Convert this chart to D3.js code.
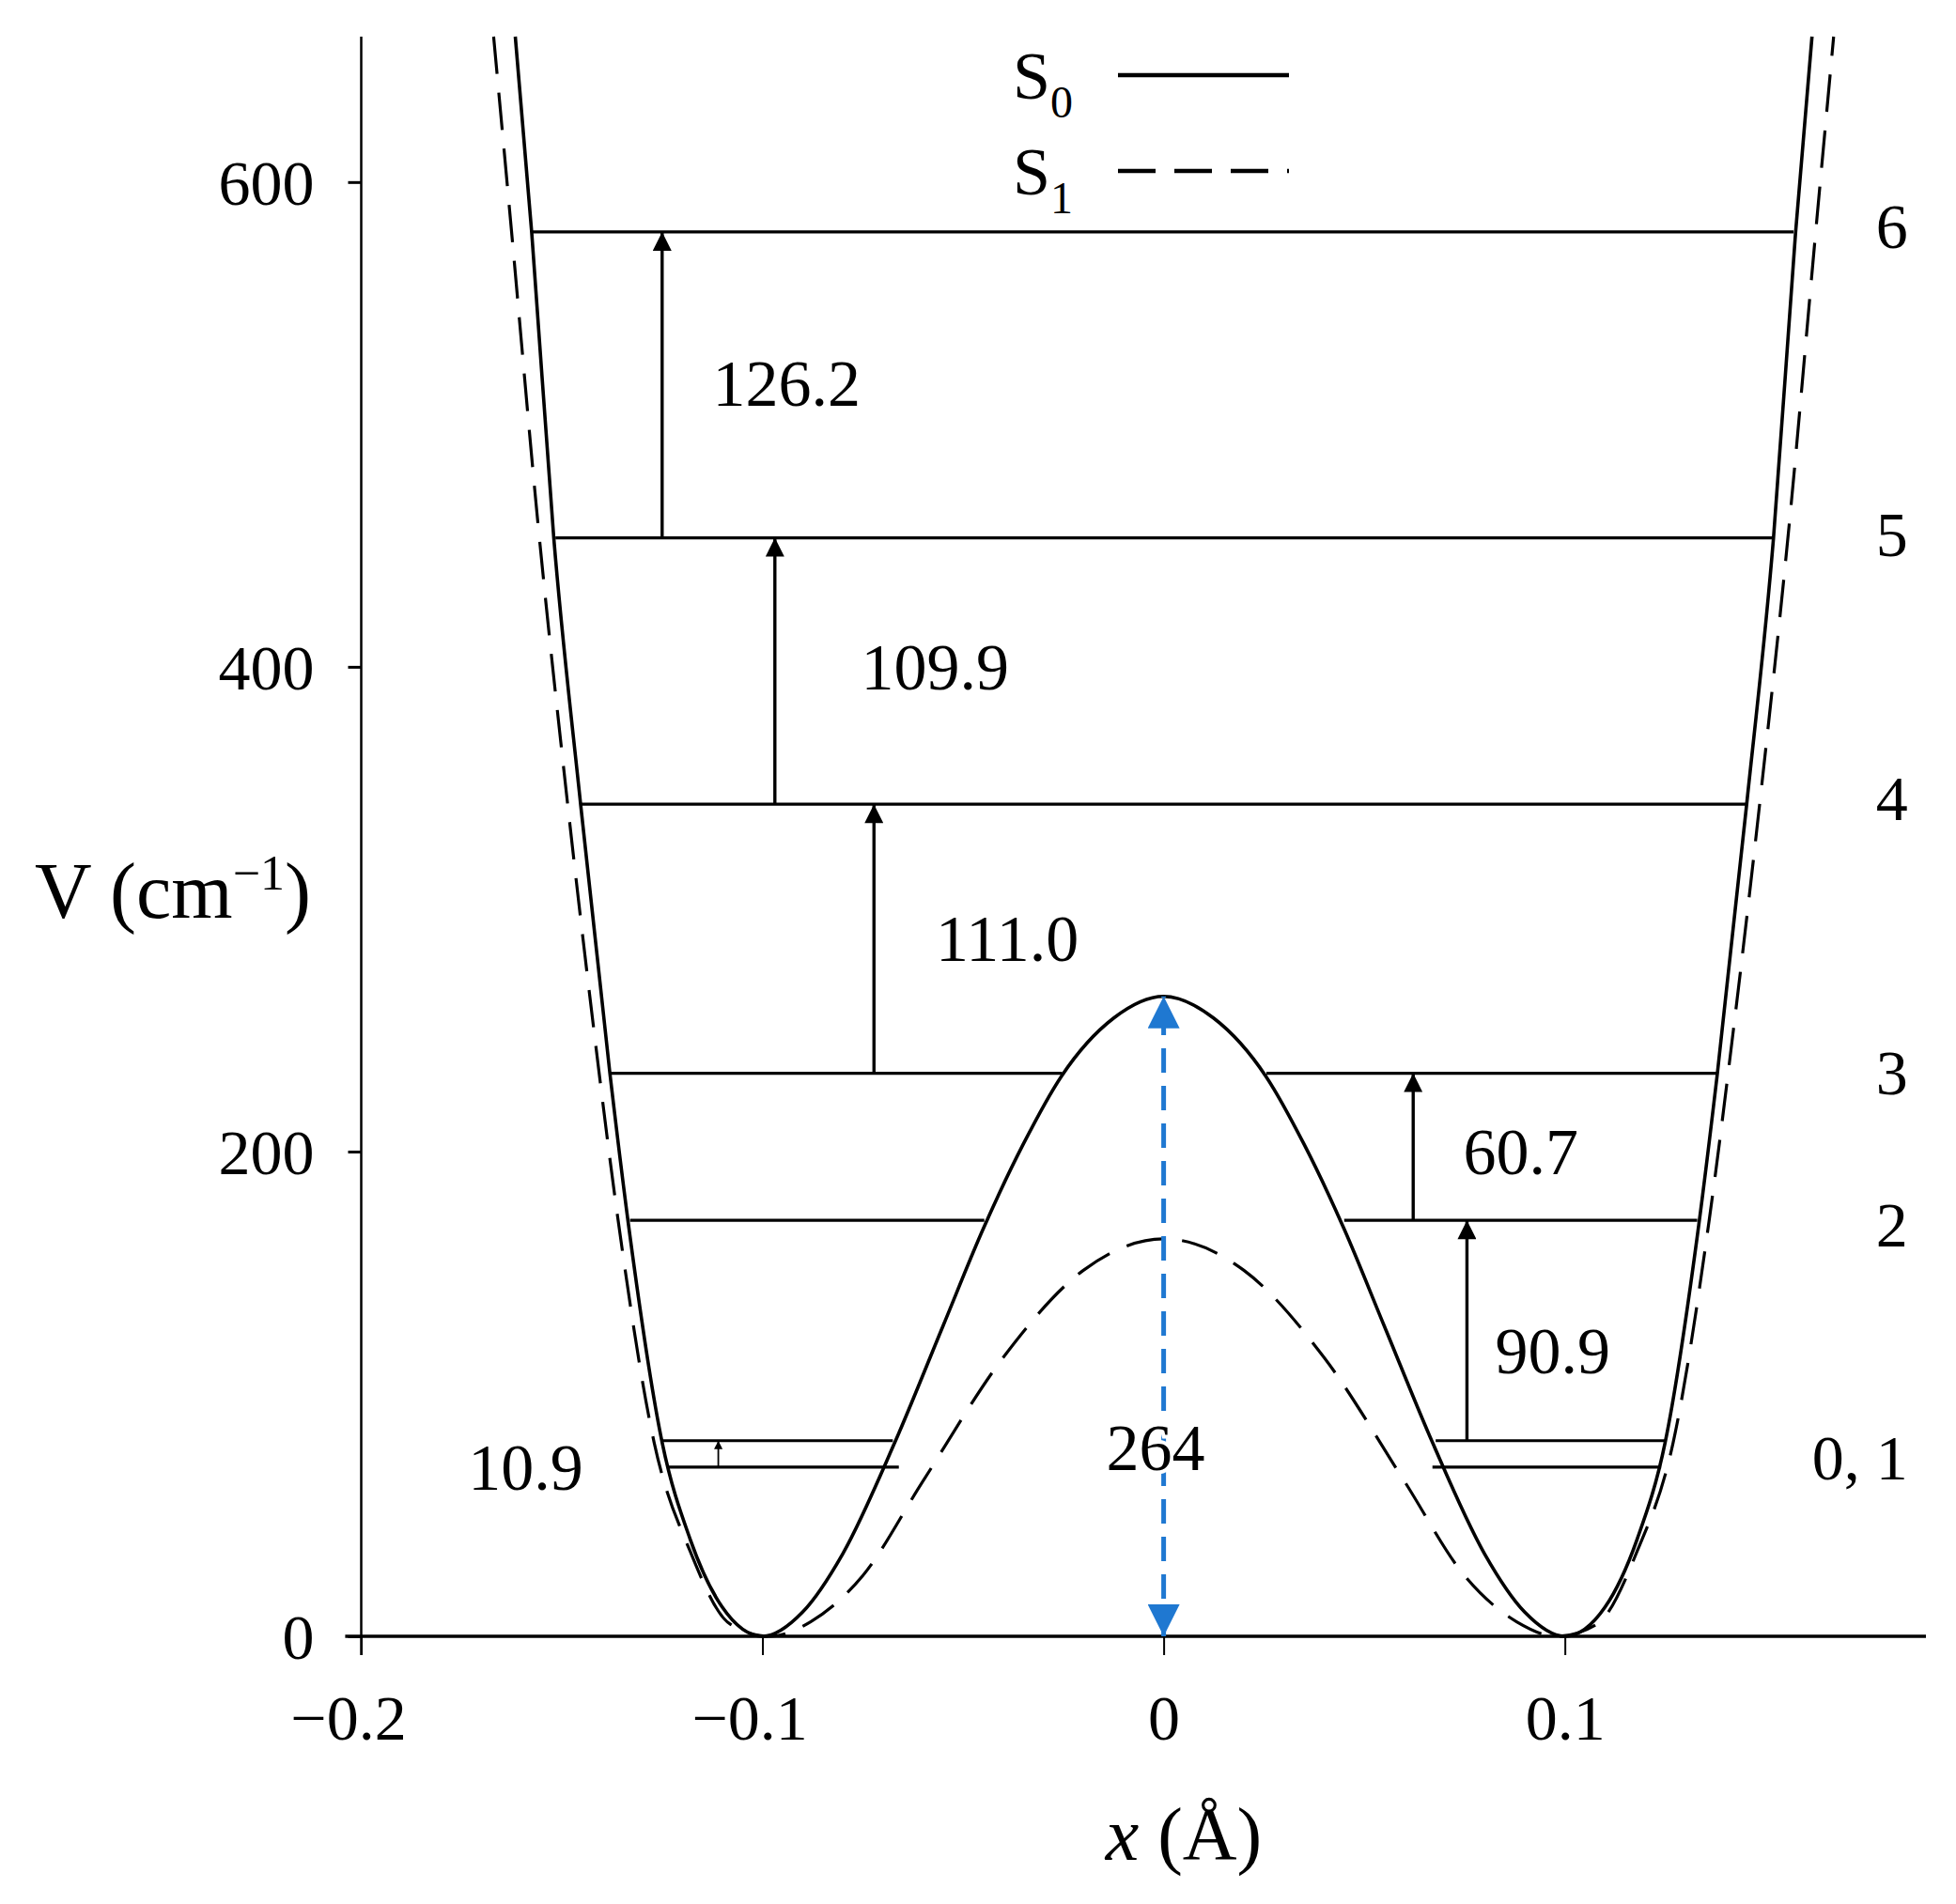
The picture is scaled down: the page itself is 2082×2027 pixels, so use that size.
<!DOCTYPE html>
<html><head><meta charset="utf-8">
<script src="https://cdn.jsdelivr.net/npm/d3@7"></script>
<style>body{margin:0;background:#fff}</style>
</head><body>
<svg id="c" width="2082" height="2027"></svg>
<script>
// Potential S0 (solid), half-profile (mirrored)
const s0X = [0,0.0125,0.0255,0.035,0.045,0.055,0.067,0.08,0.09,0.1,0.11,0.118,0.125,0.133,0.138,0.1453,0.152,0.1575,0.1616];
const s0V = [264,255,231,203,168,128,80,34,10,0,12,40,80,165,232,343,453,579,660];
// Potential S1 (dashed)
const s1X = [0,0.02,0.04,0.06,0.075,0.088,0.098,0.108,0.118,0.127,0.136,0.142,0.149,0.156,0.1625,0.167];
const s1V = [164,151,115,64,25,6,0,5,35,80,172,250,350,460,579,660];
// Energy levels
const levelE = [69.8,80.7,171.6,232.3,343.3,453.2,579.4];
const levelLabel = ["","0, 1","2","3","4","5","6"];
const levelLabelV = [0,74,170,233,346,455,582];
const levelSegs = [
  [[-0.1234,-0.066],[0.067,0.124]],
  [[-0.1253,-0.0675],[0.0678,0.125]],
  [[-0.133,-0.0447],[0.045,0.133]],
  [[-0.138,-0.0253],[0.0256,0.138]],
  [[-0.1453,0.1453]],
  [[-0.1516,0.152]],
  [[-0.1575,0.157]]
];
// Transitions: x, from level, label, label position
const transX = [-0.111,0.0756,0.0622,-0.0722,-0.0969,-0.125];
const transFrom = [0,1,2,3,4,5];
const transLabel = ["10.9","90.9","60.7","111.0","109.9","126.2"];
const transLabelX = [-0.159,0.097,0.089,-0.039,-0.057,-0.094];
const transLabelV = [70,118,200,288,400,517];
const barrier = 264;
const xTicks = [-0.2,-0.1,0,0.1];
const yTicks = [0,200,400,600];

const svg = d3.select("#c");
const x = d3.scaleLinear().domain([-0.2,0.19]).range([384.5,2050]);
const y = d3.scaleLinear().domain([0,660]).range([1742,39]);
const font = "'Liberation Serif', 'DejaVu Serif', serif";

function mirror(xs, vs){
  const pts=[];
  for(let i=xs.length-1;i>0;i--) pts.push([-xs[i],vs[i]]);
  for(let i=0;i<xs.length;i++) pts.push([xs[i],vs[i]]);
  return pts;
}
const line = d3.line().x(d=>x(d[0])).y(d=>y(d[1])).curve(d3.curveMonotoneX);

svg.append("path").attr("d",line(mirror(s1X,s1V))).attr("fill","none")
  .attr("stroke","#000").attr("stroke-width",3.2).attr("stroke-dasharray","40,20");
svg.append("path").attr("d",line(mirror(s0X,s0V))).attr("fill","none")
  .attr("stroke","#000").attr("stroke-width",3.6);

// axes
const xAxis = svg.append("g").attr("transform",`translate(0,${y(0)})`)
  .call(d3.axisBottom(x).tickValues(xTicks).tickSize(20).tickFormat(d=>d===0?"0":(d<0?"\u2212":"")+Math.abs(d).toFixed(1)).tickSizeOuter(0));
xAxis.select(".domain").attr("d",`M${x(-0.204)},0H${x(0.19)}`).attr("stroke-width",3.5);
xAxis.selectAll(".tick line").attr("stroke-width",2);
xAxis.selectAll("text").attr("font-family",font).attr("font-size",68).attr("dy",0).attr("y",110);
xAxis.selectAll(".tick text").filter(d=>d<0).attr("dx",-14);

const yAxis = svg.append("g").attr("transform",`translate(${x(-0.2)},0)`)
  .call(d3.axisLeft(y).tickValues(yTicks).tickSize(14).tickSizeOuter(0));
yAxis.select(".domain").attr("d",`M0,${y(0)+20}V${y(660)}`).attr("stroke-width",2.5);
yAxis.selectAll(".tick line").attr("stroke-width",3);
yAxis.selectAll("text").attr("font-family",font).attr("font-size",68).attr("x",-50).attr("dy","0.35em");

// levels
levelSegs.forEach((segs,i)=>segs.forEach(s=>{
  svg.append("line").attr("x1",x(s[0])).attr("x2",x(s[1])).attr("y1",y(levelE[i])).attr("y2",y(levelE[i]))
    .attr("stroke","#000").attr("stroke-width",3.2);
}));
levelLabel.forEach((t,i)=>{ if(!t) return;
  svg.append("text").attr("x",x(0.1855)).attr("y",y(levelLabelV[i])).attr("text-anchor","end")
    .attr("font-family",font).attr("font-size",68).attr("dy","0.35em").text(t);
});

// arrow markers
const defs = svg.append("defs");
defs.append("marker").attr("id","ah").attr("viewBox","0 0 10 10").attr("refX",10).attr("refY",5)
  .attr("markerWidth",10).attr("markerHeight",9).attr("markerUnits","userSpaceOnUse").attr("orient","auto")
  .append("path").attr("d","M0,0L10,5L0,10Z").attr("fill","#000");
defs.append("marker").attr("id","ahs").attr("viewBox","0 0 10 10").attr("refX",10).attr("refY",5)
  .attr("markerWidth",26).attr("markerHeight",20).attr("markerUnits","userSpaceOnUse").attr("orient","auto")
  .append("path").attr("d","M0,0L10,5L0,10Z").attr("fill","#000");
defs.append("marker").attr("id","ab").attr("viewBox","0 0 10 10").attr("refX",10).attr("refY",5)
  .attr("markerWidth",38).attr("markerHeight",34).attr("markerUnits","userSpaceOnUse").attr("orient","auto-start-reverse")
  .append("path").attr("d","M0,0L10,5L0,10Z").attr("fill","#1f78d1");

transX.forEach((tx,i)=>{
  const f=levelE[transFrom[i]], t=levelE[transFrom[i]+1];
  svg.append("line").attr("x1",x(tx)).attr("x2",x(tx)).attr("y1",y(f)).attr("y2",y(t))
    .attr("stroke","#000").attr("stroke-width",i===0?1.8:3.4).attr("marker-end",i===0?"url(#ah)":"url(#ahs)");
  svg.append("text").attr("x",x(transLabelX[i])).attr("y",y(transLabelV[i])).attr("text-anchor","middle")
    .attr("dy","0.35em").attr("font-family",font).attr("font-size",70).text(transLabel[i]);
});

// barrier arrow
svg.append("line").attr("x1",x(0)).attr("x2",x(0)).attr("y1",y(0)).attr("y2",y(barrier))
  .attr("stroke","#1f78d1").attr("stroke-width",5).attr("stroke-dasharray","26,14")
  .attr("marker-start","url(#ab)").attr("marker-end","url(#ab)");
svg.append("text").attr("x",x(-0.002)).attr("y",y(78)).attr("text-anchor","middle").attr("dy","0.35em")
  .attr("font-family",font).attr("font-size",70).attr("stroke","#fff").attr("stroke-width",8).attr("paint-order","stroke").text(barrier);

// legend
const lg=[["0",80,null],["1",182,"40,20"]];
lg.forEach(l=>{
  const t=svg.append("text").attr("x",1078).attr("y",l[1]).attr("dy","0.35em").attr("font-family",font).attr("font-size",72);
  t.append("tspan").text("S");
  t.append("tspan").attr("font-size",48).attr("dy",20).text(l[0]);
  svg.append("line").attr("x1",1190).attr("x2",1372).attr("y1",l[1]).attr("y2",l[1]).attr("stroke","#000").attr("stroke-width",4.5)
    .attr("stroke-dasharray",l[2]);
});

// axis titles
const yt=svg.append("text").attr("x",184).attr("y",948).attr("text-anchor","middle").attr("dy","0.35em")
  .attr("font-family",font).attr("font-size",84);
yt.append("tspan").text("V (cm");
yt.append("tspan").attr("font-size",52).attr("dy",-30).text("\u22121");
yt.append("tspan").attr("dy",30).text(")");
const xt=svg.append("text").attr("x",x(0.005)).attr("y",1952).attr("text-anchor","middle").attr("dy","0.35em")
  .attr("font-family",font).attr("font-size",80);
xt.append("tspan").attr("font-style","italic").text("x");
xt.append("tspan").text(" (\u00C5)");
</script>
</body></html>
